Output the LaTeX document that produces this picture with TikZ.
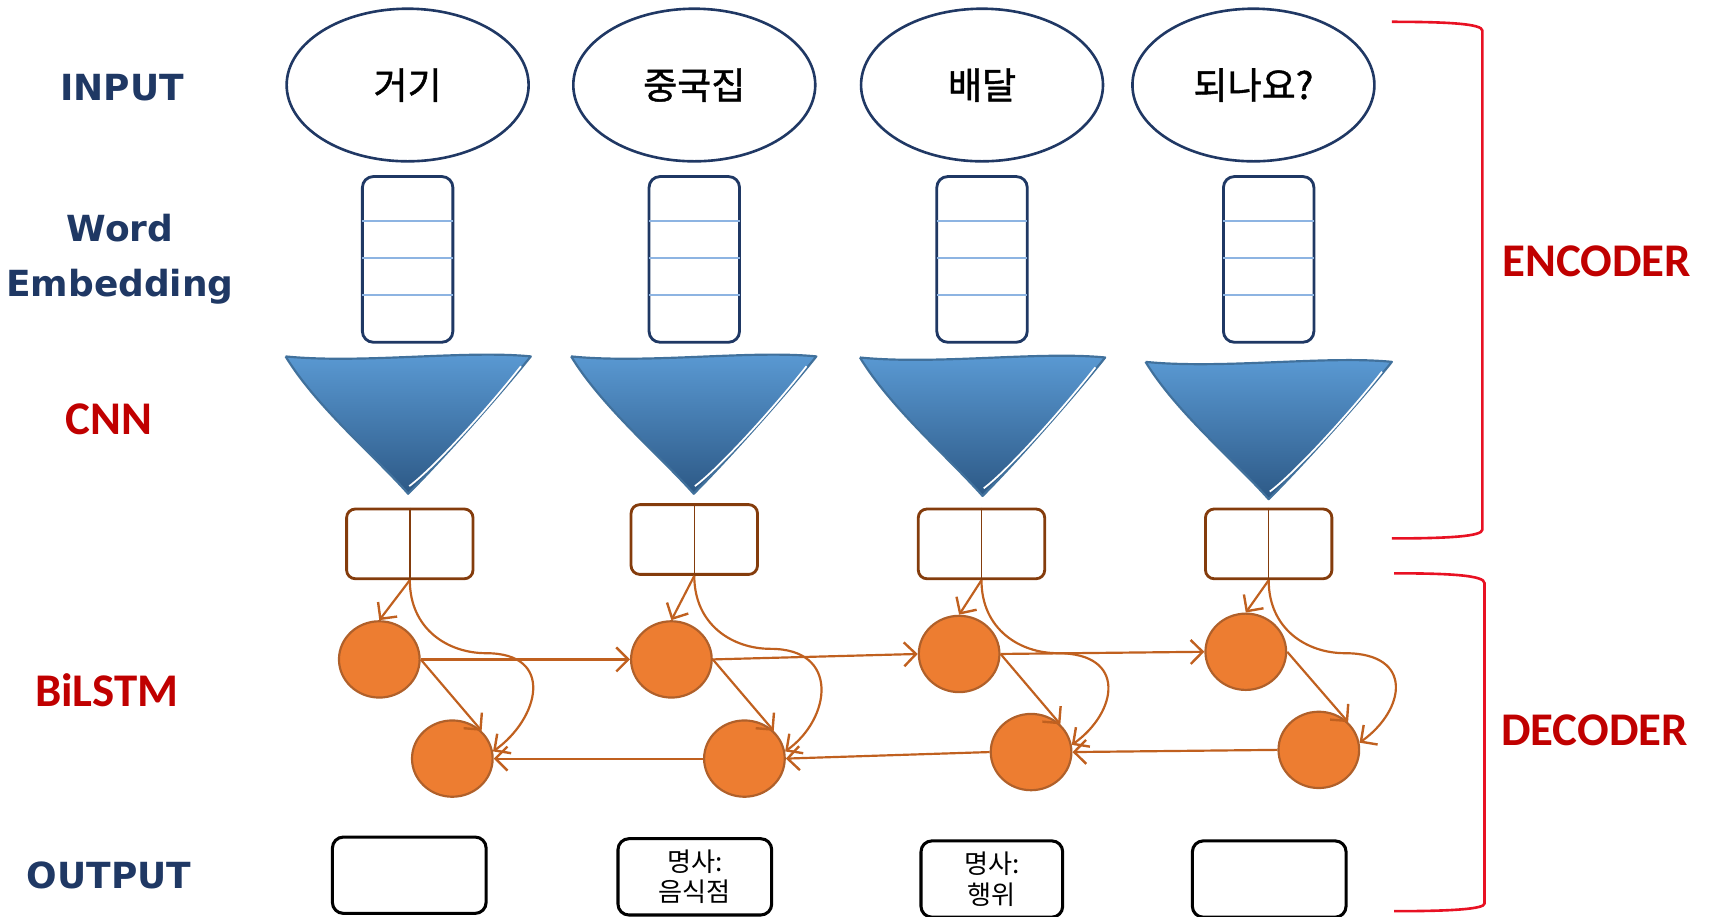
\documentclass[tikz,border=0pt]{standalone}
\usepackage{fontspec}
\usetikzlibrary{shapes.geometric,arrows.meta,calc}
\newfontfamily\krfont{Noto Sans CJK KR}
\newfontfamily\krfontb{Noto Sans CJK KR}[FakeBold=1.2]
\newfontfamily\calfont{Carlito}
\newfontfamily\vfont{DejaVu Sans}
\definecolor{navyT}{HTML}{1F3864}
\definecolor{redT}{HTML}{C00000}
\definecolor{ellD}{HTML}{203864}
\definecolor{embL}{HTML}{8DB4E2}
\definecolor{fA}{HTML}{5B9BD5}
\definecolor{fB}{HTML}{2D5986}
\definecolor{fL}{HTML}{41719C}
\definecolor{boxB}{HTML}{843C0C}
\definecolor{cellF}{HTML}{ED7D31}
\definecolor{cellD}{HTML}{B0602A}
\definecolor{arrC}{HTML}{C0601F}
\definecolor{brk}{HTML}{E81123}
\newcommand{\funnelshape}[4]{% left x, right x, top y, tip y
  \pgfmathsetmacro{\fm}{(#1+#2)/2}
  \shade[top color=fA, bottom color=fB] (#1,#3) .. controls ($(#1,#3)+(70,7)$) and ($(#2,#3)+(-60,-6)$) .. (#2,#3)
     .. controls ($(#2,#3)+(-32,40)$) and ($(\fm,#4)+(28,-28)$) .. (\fm,#4)
     .. controls ($(\fm,#4)+(-32,-36)$) and ($(#1,#3)+(28,46)$) .. (#1,#3) -- cycle;
  \draw[fL, line width=2pt, line join=round] (#1,#3) .. controls ($(#1,#3)+(70,7)$) and ($(#2,#3)+(-60,-6)$) .. (#2,#3)
     .. controls ($(#2,#3)+(-32,40)$) and ($(\fm,#4)+(28,-28)$) .. (\fm,#4)
     .. controls ($(\fm,#4)+(-32,-36)$) and ($(#1,#3)+(28,46)$) .. (#1,#3);
  \draw[white, line width=1.6pt] ($(#2,#3)+(-9,9)$) .. controls ($(#2,#3)+(-38,46)$) and ($(\fm,#4)+(24,-24)$) .. ($(\fm,#4)+(1,-7)$);
}
\begin{document}
\begin{tikzpicture}[x=1pt,y=-1pt,
  navylbl/.style={text=navyT, font=\vfont\bfseries\fontsize{33}{50}\selectfont, inner sep=0},
  redlbl/.style={text=redT, font=\calfont\bfseries\fontsize{43}{50}\selectfont, inner sep=0},
  inell/.style={ellipse, draw=ellD, line width=2.4pt, minimum width=222, minimum height=140, inner sep=0, font=\krfontb\fontsize{34}{40}\selectfont},
  embbox/.style={rectangle, rounded corners=10pt, draw=navyT, line width=2.6pt, minimum width=83, minimum height=152, inner sep=0},
  embline/.style={embL, line width=1.6pt},
  brbox/.style={rectangle, rounded corners=8pt, draw=boxB, line width=2.6pt, minimum width=116, minimum height=64, inner sep=0},
  cell/.style={ellipse, fill=cellF, draw=cellD, line width=2pt, minimum width=74, minimum height=70, inner sep=0},
  arr/.style={draw=arrC, line width=2pt, -{Straight Barb[length=11pt,width=22pt,line width=2.2pt]}},
  outbox/.style={rectangle, rounded corners=10pt, draw=black, line width=2.8pt, minimum height=70, inner sep=0, align=center, font=\krfont\fontsize{24}{28}\selectfont},
  bracket/.style={draw=brk, line width=2.4pt}
]
\useasboundingbox (0,0) rectangle (1568,841);

% side labels
\node[navylbl] (lin) at (112,80) {INPUT};
\node[navylbl, align=center] (lwe) at (110,238) {Word\\Embedding};
\node[redlbl] (lcnn) at (100,385) {CNN};
\node[redlbl] (lbil) at (98,633) {BiLSTM};
\node[navylbl] (lout) at (100,803) {OUTPUT};
\node[redlbl] (lenc) at (1465,240) {ENCODER};
\node[redlbl] (ldec) at (1463,670) {DECODER};

% input ellipses
\node[inell] (e1) at (374,78) {거기};
\node[inell] (e2) at (637,78) {중국집};
\node[inell] (e3) at (901,78) {배달};
\node[inell] (e4) at (1150,78) {되나요?};

% embeddings
\node[embbox] (w1) at (374,238) {};
\node[embbox] (w2) at (637,238) {};
\node[embbox] (w3) at (901,238) {};
\node[embbox] (w4) at (1164,238) {};
\foreach \i in {1,2,3,4}{
  \foreach \d in {42,76,110}{
    \draw[embline] ($(w\i.north west)+(1.3,\d)$) -- ($(w\i.north east)+(-1.3,\d)$);
  }
}

% CNN funnels
\funnelshape{262}{487}{327}{453}
\funnelshape{524}{749}{327}{453}
\funnelshape{789}{1014}{328}{455}
\funnelshape{1051}{1277}{332}{458}

% feature boxes
\node[brbox] (c1) at (376,499) {};
\node[brbox] (c2) at (637,495) {};
\node[brbox] (c3) at (900.5,499) {};
\node[brbox] (c4) at (1164,499) {};
\foreach \i in {1,2,3,4}{
  \draw[boxB, line width=1.4pt] (c\i.north) -- (c\i.south);
}

% BiLSTM cells
\node[cell] (t1) at (348,605) {};
\node[cell] (t2) at (616,605) {};
\node[cell] (t3) at (880,600) {};
\node[cell] (t4) at (1143,598) {};
\node[cell] (b1) at (415,696) {};
\node[cell] (b2) at (683,696) {};
\node[cell] (b3) at (946,690) {};
\node[cell] (b4) at (1210,688) {};

% connectors
\foreach \i in {1,2,3,4}{
  \draw[arr] (c\i.south) -- (t\i.north);
  \draw[arr] (t\i.east) -- (b\i.north east);
  \draw[arr] (c\i.south) .. controls ($(c\i.south)+(0,45)$) and ($(c\i.south)+(35,67)$) .. ($(c\i.south)+(70,67)$)
     .. controls ($(c\i.south)+(134,67)$) and ($(b\i.10)+(42,-30)$) .. (b\i.10);
}
\draw[arr] (t1.east) -- (t2.west);
\draw[arr] (t2.east) -- (t3.west);
\draw[arr] (t3.east) -- (t4.west);
\draw[arr] (b2.west) -- (b1.east);
\draw[arr] (b3.west) -- (b2.east);
\draw[arr] (b4.west) -- (b3.east);

% outputs
\node[outbox, minimum width=141] (o1) at (375.5,803) {};
\node[outbox, minimum width=141] (o2) at (637.5,804.5) {명사:\\음식점};
\node[outbox, minimum width=130] (o3) at (910,806.5) {명사:\\행위};
\node[outbox, minimum width=141] (o4) at (1164.5,806.5) {};

% brackets
\coordinate (ea) at (1277,20);
\coordinate (eb) at (1277,494);
\coordinate (da) at (1279,526);
\coordinate (db) at (1279,836);
\draw[bracket] (ea) .. controls (1330,20) and (1360,22) .. (1360,28) -- (1360,486) .. controls (1360,492) and (1330,494) .. (eb);
\draw[bracket] (da) .. controls (1332,526) and (1362,528) .. (1362,535) -- (1362,829) .. controls (1362,834) and (1332,836) .. (db);
\end{tikzpicture}
\end{document}
